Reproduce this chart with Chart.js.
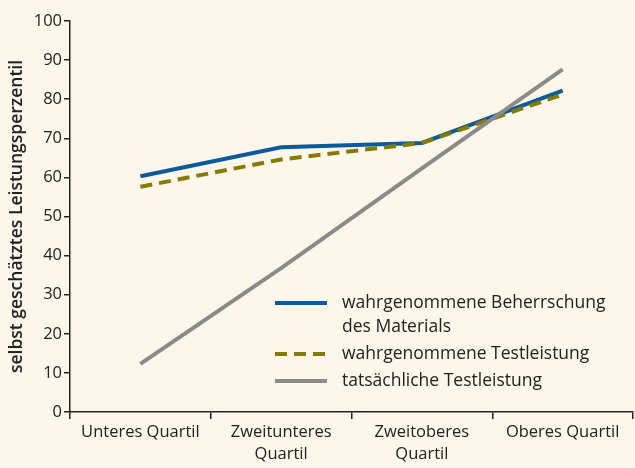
<!DOCTYPE html>
<html>
<head>
<meta charset="utf-8">
<script src="https://cdn.jsdelivr.net/npm/chart.js@4"></script>
<style>
  html, body { margin: 0; padding: 0; background: #fdf6ea; }
  #wrap { width: 635px; height: 468px; }
</style>
</head>
<body>
<div id="wrap"><canvas id="chart" width="635" height="468"></canvas></div>
<script>
const categories = ['Unteres Quartil', ['Zweitunteres', 'Quartil'], ['Zweitoberes', 'Quartil'], 'Oberes Quartil']
const beherrschung = [60.3, 67.7, 68.8, 82.2]
const testleistungWahr = [57.6, 64.6, 68.8, 81.2]
const testleistungReal = [12.3, 36.8, 62.3, 87.6]
const yTicks = [0, 10, 20, 30, 40, 50, 60, 70, 80, 90, 100]

const legendLabels = [
  ['wahrgenommene Beherrschung', 'des Materials'],
  ['wahrgenommene Testleistung'],
  ['tatsächliche Testleistung']
]

const bg = '#fdf6ea'
const textColor = '#222'
const fontFamily = "'Open Sans', 'Noto Sans', sans-serif"

const bgPlugin = {
  id: 'bg',
  beforeDraw(chart) {
    const ctx = chart.ctx
    ctx.save()
    ctx.fillStyle = bg
    ctx.fillRect(0, 0, chart.width, chart.height)
    ctx.restore()
  }
}

// legend drawn inside the plot, bottom right
const innerLegend = {
  id: 'innerLegend',
  afterDatasetsDraw(chart) {
    const ctx = chart.ctx
    const x0 = 275, x1 = 327, tx = 342
    let y = 303
    ctx.save()
    ctx.font = '17.5px ' + fontFamily
    ctx.fillStyle = textColor
    ctx.textBaseline = 'middle'
    legendLabels.forEach((lines, i) => {
      const ds = chart.data.datasets[i]
      ctx.beginPath()
      ctx.strokeStyle = ds.borderColor
      ctx.lineWidth = ds.borderWidth
      ctx.setLineDash(ds.borderDash || [])
      ctx.moveTo(x0, y)
      ctx.lineTo(x1, y)
      ctx.stroke()
      lines.forEach((line, j) => {
        ctx.fillText(line, tx, y + j * 24)
      })
      y += lines.length * 24 + 3
    })
    ctx.restore()
  }
}

const ctx = document.getElementById('chart')
const chart = new Chart(ctx, {
  type: 'line',
  data: {
    labels: categories,
    datasets: [{
      label: 'wahrgenommene Beherrschung des Materials',
      data: beherrschung,
      borderColor: '#0b5a99',
      borderWidth: 4,
      pointRadius: 0,
      order: 2
    }, {
      label: 'wahrgenommene Testleistung',
      data: testleistungWahr,
      borderColor: '#857b02',
      borderWidth: 4,
      borderDash: [12, 7],
      pointRadius: 0,
      order: 1
    }, {
      label: 'tatsächliche Testleistung',
      data: testleistungReal,
      borderColor: '#8a8a8a',
      borderWidth: 4,
      pointRadius: 0,
      order: 0
    }]
  },
  options: {
    responsive: false,
    animation: false,
    layout: { padding: { top: 21, right: 2, left: 0, bottom: 0 } },
    plugins: {
      legend: { display: false },
      tooltip: { enabled: false }
    },
    scales: {
      x: {
        offset: true,
        grid: {
          offset: true,
          drawOnChartArea: false,
          drawTicks: true,
          tickLength: 7,
          color: '#222',
          lineWidth: 1.5
        },
        border: { color: '#222', width: 1.5 },
        ticks: {
          color: textColor,
          font: { family: fontFamily, size: 16.5, lineHeight: 1.33 },
          padding: 2,
          maxRotation: 0,
          autoSkip: false
        },
        afterFit(scale) { scale.height = 56 }
      },
      y: {
        min: 0,
        max: 100,
        afterBuildTicks(scale) { scale.ticks = yTicks.map(v => ({ value: v })) },
        grid: {
          drawOnChartArea: false,
          drawTicks: true,
          tickLength: 6,
          color: '#222',
          lineWidth: 1.5
        },
        border: { color: '#222', width: 1.5 },
        ticks: {
          color: textColor,
          font: { family: fontFamily, size: 16.5 },
          padding: 2
        },
        title: {
          display: true,
          text: 'selbst geschätztes Leistungsperzentil',
          color: textColor,
          font: { family: fontFamily, size: 17.5, weight: '600' },
          padding: { top: 7, bottom: 4 }
        },
        afterFit(scale) { scale.width = 70 }
      }
    }
  },
  plugins: [bgPlugin, innerLegend]
})
</script>
</body>
</html>
